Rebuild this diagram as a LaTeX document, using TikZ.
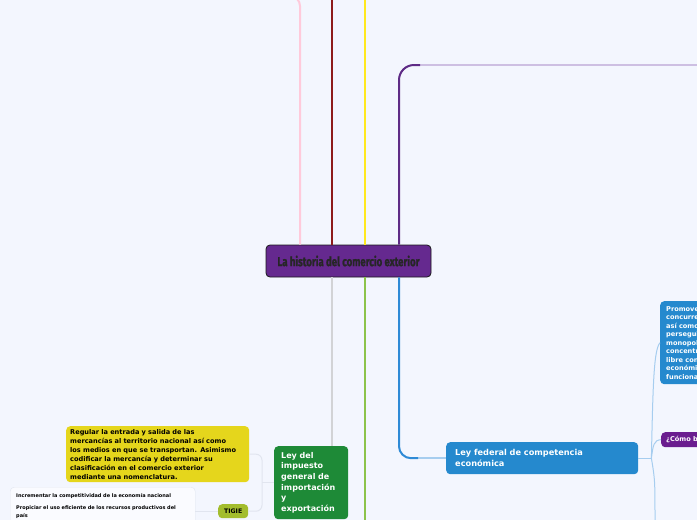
\documentclass[tikz,border=0pt]{standalone}
\usepackage{fontspec}
\setmainfont{DejaVu Sans}
\newfontfamily\headfont[FakeStretch=0.74,FakeBold=1.2]{Fira Sans}
\usetikzlibrary{positioning,calc}
\definecolor{paper}{HTML}{F3F6FE}
\definecolor{hubvio}{HTML}{65298F}
\definecolor{rosa}{HTML}{FFCADB}
\definecolor{vino}{HTML}{8E1B1B}
\definecolor{amarillo}{HTML}{FFE81E}
\definecolor{morado}{HTML}{5E2B86}
\definecolor{moradoclaro}{HTML}{CDBFE2}
\definecolor{gris}{HTML}{D2D3D6}
\definecolor{verdelin}{HTML}{8CC34B}
\definecolor{azul}{HTML}{2E8AD6}
\definecolor{azulclaro}{HTML}{A6CDEF}
\definecolor{azulnodo}{HTML}{2589CE}
\definecolor{verdenodo}{HTML}{1E8A37}
\definecolor{amarillonodo}{HTML}{E5D61C}
\definecolor{oliva}{HTML}{A3BD2D}
\definecolor{lila}{HTML}{6A1D8F}
\definecolor{marco}{HTML}{E1E5EF}

\begin{document}
\begin{tikzpicture}[x=1pt,y=-1pt,
  rama/.style={line width=2pt},
  sub/.style={line width=1pt},
  tema/.style={rectangle,rounded corners=4pt,anchor=north west,inner ysep=0pt,
    font=\bfseries,text=white,align=left}
]
\useasboundingbox (0,0) rectangle (697,520);
\fill[paper] (0,0) rectangle (697,520);
\clip (0,0) rectangle (697,520);
% ---- central topic
\node[draw=black!90,line width=0.8pt,fill=hubvio,rounded corners=4pt,
  minimum width=165pt,minimum height=32pt,inner sep=0pt,text=black!85,
  font=\headfont\bfseries\fontsize{13}{14}\selectfont] (hub) at (348.5,261)
  {La historia del comercio exterior};
% ---- topics
\node[tema,fill=azulnodo,minimum width=192pt,minimum height=32pt,inner xsep=9pt,
  text width=174pt,font=\bfseries\fontsize{8.2}{11}\selectfont] (ley) at (446,442)
  {Ley federal de competencia\\económica};
\node[tema,fill=verdenodo,minimum width=74pt,minimum height=73pt,inner xsep=7pt,
  text width=60pt,font=\bfseries\fontsize{8}{10.7}\selectfont] (imp) at (274,446)
  {Ley del\\impuesto\\general de\\importación\\y\\exportación};
% ---- subtopics
\node[tema,fill=azulnodo,minimum width=160pt,minimum height=83pt,inner xsep=6pt,
  text width=148pt,font=\bfseries\fontsize{6.6}{8.5}\selectfont] (prom) at (660,301)
  {Promover, proteger y garantizar la libre\\concurrencia y la competencia\\así como prevenir, investigar,\\perseguir con eficacia, castigar\\monopolios, las prácticas\\concentraciones ilícitas, las\\libre concurrencia y la\\económica, y demás\\funcionamiento eficiente};
\node[tema,fill=lila,minimum width=120pt,minimum height=15pt,inner xsep=5pt,
  text width=110pt,font=\bfseries\fontsize{6.6}{8}\selectfont] (cb) at (661,432)
  {¿Cómo beneficia?};
\node[tema,fill=amarillonodo,text=black,minimum width=183pt,minimum height=56pt,
  inner xsep=4pt,text width=175pt,font=\bfseries\fontsize{6.6}{9}\selectfont] (reg) at (66,426)
  {Regular la entrada y salida de las\\mercancías al territorio nacional así como\\los medios en que se transportan. Asimismo\\codificar la mercancía y determinar su\\clasificación en el comercio exterior\\mediante una nomenclatura.};
\node[tema,fill=oliva,text=black,minimum width=30pt,minimum height=14pt,inner xsep=0pt,
  align=center,font=\bfseries\fontsize{6.2}{7}\selectfont] (tig) at (218,504) {TIGIE};
\node[tema,fill=white!60!paper,draw=marco,text=black,minimum width=185pt,minimum height=38pt,
  inner xsep=6pt,text width=173pt,font=\bfseries\fontsize{5}{8}\selectfont] (obj) at (10,487)
  {Incrementar la competitividad de la economía nacional\\[4pt]Propiciar el uso eficiente de los recursos productivos del\\país};
% ---- branches up
\coordinate (xa) at (300,-2);
\coordinate (xb) at (332,-2);
\coordinate (xc) at (365,-2);
\coordinate (xd) at (399,-2);
\coordinate (rosafin) at (270,-4);
\coordinate (morcodo) at (420,65);
\coordinate (morfin) at (700,65);
\draw[rama,rosa,rounded corners=10pt] (hub.north -| xa) |- (rosafin);
\foreach \c/\col in {xb/vino, xc/amarillo}
  \draw[rama,\col] (hub.north -| \c) -- (\c);
\draw[line width=1.5pt,moradoclaro] (morcodo) -- (morfin);
\draw[rama,morado,rounded corners=15pt] (hub.north -| xd) |- (morcodo);
% ---- branches down
\coordinate (abajo) at (0,522);
\coordinate (azcodo) at (418,0);
\draw[rama,gris] (hub.south -| xb) -- (imp.north -| xb);
\draw[rama,verdelin] (hub.south -| xc) -- (xc |- abajo);
\draw[line width=1.5pt,azulclaro] (azcodo |- ley.west) -- (ley.west);
\draw[rama,azul,rounded corners=12pt] (hub.south -| xd) |- (azcodo |- ley.west);
% ---- ley federal
\coordinate (nudo) at ($(ley.east)+(13,0)$);
\coordinate (azfin) at (655,522);
\draw[sub,azulclaro] (ley.east) -- (nudo);
\draw[sub,azulclaro] (nudo) .. controls (653,380) and (654,350) .. (prom.west);
\draw[sub,azulclaro] (nudo) .. controls (653,445) and (654,440) .. (cb.west);
\draw[sub,azulclaro] (nudo) .. controls (655,480) .. (azfin);
% ---- impuesto general
\coordinate (brazo) at (262,0);
\draw[sub,marco] (imp.west) -- (imp.west -| brazo);
\draw[sub,marco,rounded corners=6pt] (reg.east) -| (imp.west -| brazo) |- (tig.east);
\draw[sub,marco] (tig.west) -- (tig.west -| obj.east);
\end{tikzpicture}
\end{document}
